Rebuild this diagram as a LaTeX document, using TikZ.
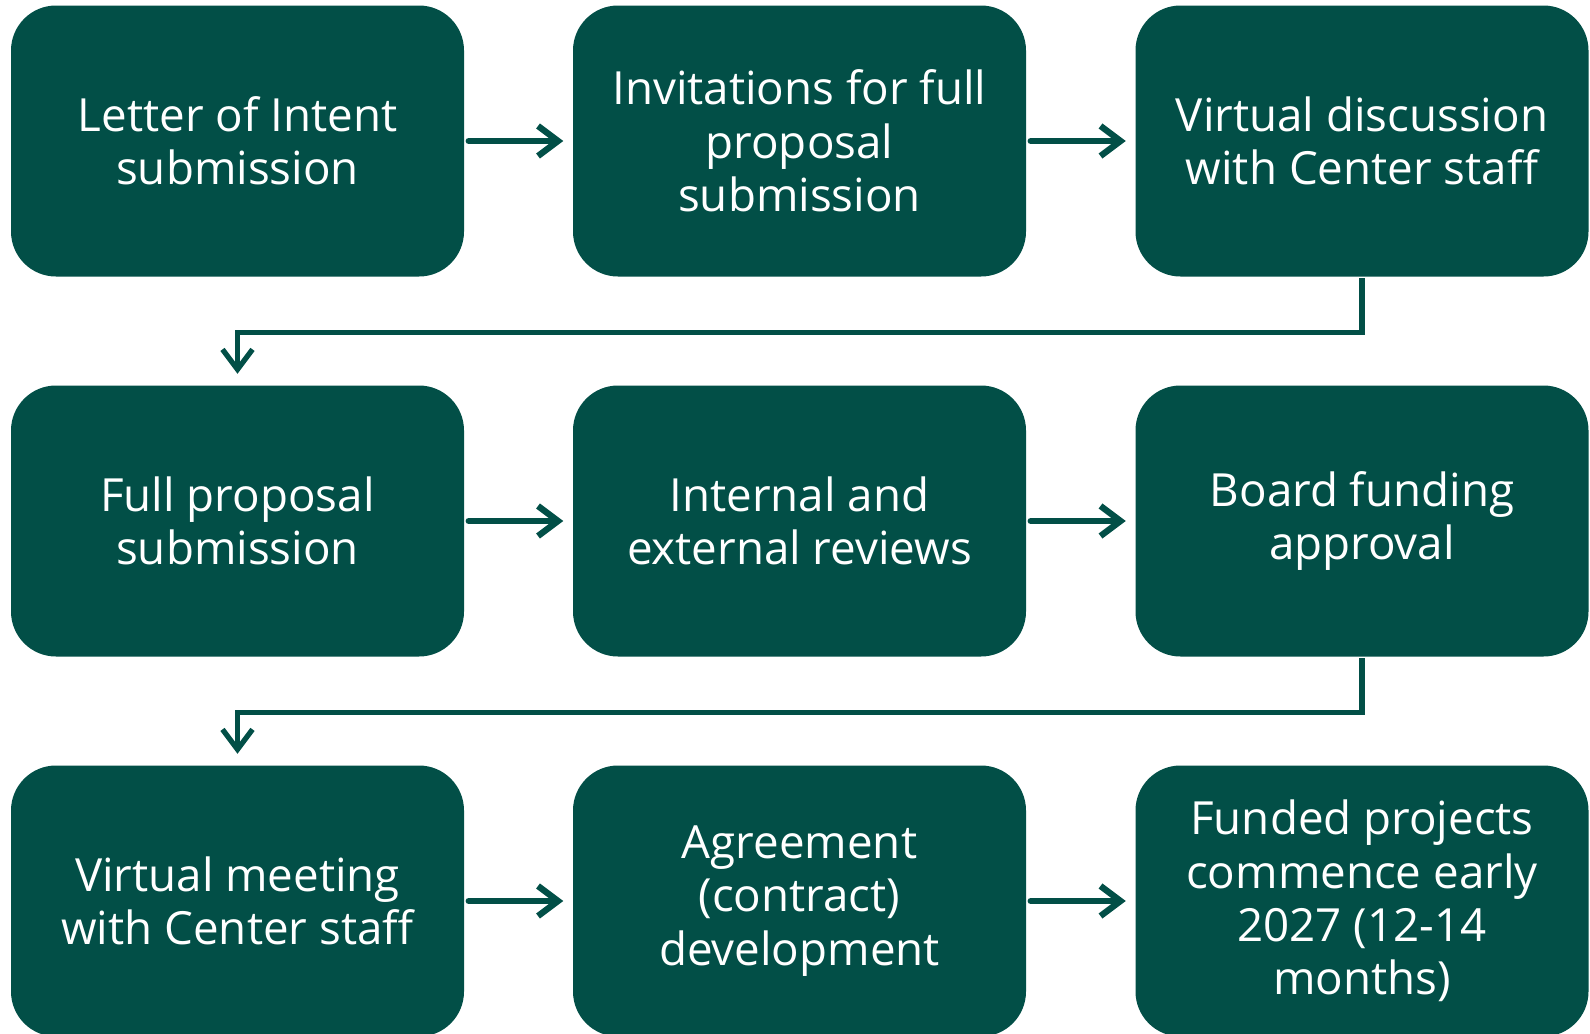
\documentclass[tikz,border=0pt]{standalone}
\usepackage{fontspec}
\setmainfont{Open Sans}
\usepackage{xcolor}
\usepackage{tikz}
\usetikzlibrary{positioning, arrows.meta, calc}
\definecolor{boxgreen}{RGB}{2,79,71}

\begin{document}
\begin{tikzpicture}[
        >={Straight Barb[length=0.2cm, width=0.3cm]}, % Arrowhead style
        stage/.style={rectangle, rounded corners=0.45cm, fill=boxgreen, text=white,
            minimum width=4.53cm, minimum height=2.71cm, align=center,
            font=\fontsize{13}{15.2}\selectfont},
        flow/.style={->, draw=boxgreen, line width=1.8pt, line cap=round,
            shorten <=0.04cm, shorten >=0.09cm},
        turn/.style={->, draw=boxgreen, line width=1.5pt,
            shorten <=0.01cm, shorten >=0.11cm}
    ]
    \useasboundingbox (0,0) rectangle (15.9,-10.33);

    % ==========================================
    % Nodes Placement
    % ==========================================
    \node[stage] (LOI) at (2.375, -1.41) {Letter of Intent\\submission};
    \node[stage] (INV) at (7.995, -1.41) {Invitations for full\\proposal\\submission};
    \node[stage] (VD)  at (13.62, -1.41) {Virtual discussion\\with Center staff};

    \node[stage] (FP)  at (2.375, -5.21) {Full proposal\\submission};
    \node[stage] (REV) at (7.995, -5.21) {Internal and\\external reviews};
    \node[stage] (BFA) at (13.62, -5.21) {Board funding\\approval};

    \node[stage] (VM)  at (2.375, -9.01) {Virtual meeting\\with Center staff};
    \node[stage] (AGR) at (7.995, -9.01) {Agreement\\(contract)\\development};
    \node[stage] (FUN) at (13.62, -9.01) {Funded projects\\commence early\\2027 (12-14\\months)};

    % ==========================================
    % Edges
    % ==========================================

    % Row 1
    \draw[flow] (LOI) -- (INV);
    \draw[flow] (INV) -- (VD);

    % Row 1 to row 2
    \draw[turn] (VD.south) -- ++(0,-0.55) -| (FP.north);

    % Row 2
    \draw[flow] (FP) -- (REV);
    \draw[flow] (REV) -- (BFA);

    % Row 2 to row 3
    \draw[turn] (BFA.south) -- ++(0,-0.55) -| (VM.north);

    % Row 3
    \draw[flow] (VM) -- (AGR);
    \draw[flow] (AGR) -- (FUN);

\end{tikzpicture}
\end{document}
